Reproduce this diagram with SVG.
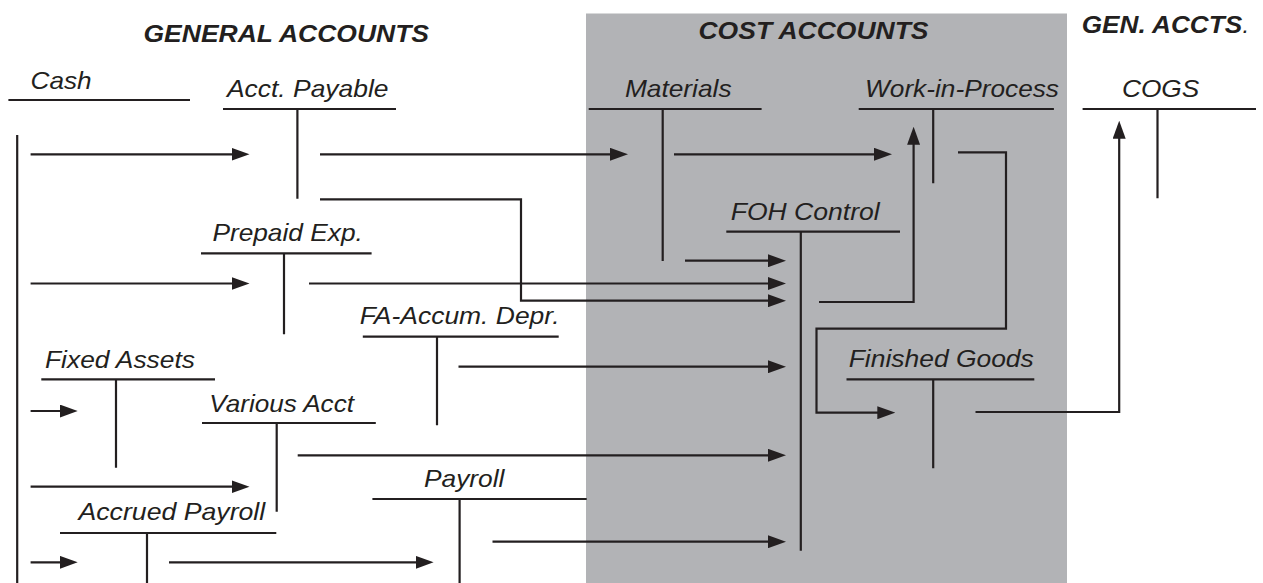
<svg xmlns="http://www.w3.org/2000/svg" width="1263" height="583" viewBox="0 0 1263 583">
<style>
.hd{font-family:"Liberation Sans",Arial,sans-serif;font-weight:bold;font-style:italic;font-size:24px;fill:#231f20}
.lb{font-family:"Liberation Sans",Arial,sans-serif;font-style:italic;font-size:24px;fill:#231f20}
.ln{stroke:#231f20;stroke-width:2.2;fill:none}
.cn{stroke:#231f20;stroke-width:2.2;fill:none;stroke-linejoin:miter;marker-end:url(#ah)}
.cp{stroke:#231f20;stroke-width:2.2;fill:none;stroke-linejoin:miter}
</style>
<defs>
<marker id="ah" markerUnits="userSpaceOnUse" markerWidth="18" markerHeight="13" refX="8" refY="6.5" orient="auto">
<path d="M0,0 L18,6.5 L0,13 z" fill="#231f20"/>
</marker>
</defs>
<rect id="cost-area" x="586" y="13.5" width="481" height="570" fill="#b2b3b6"/>
<g id="headers">
<text class="hd" x="143.5" y="41.7" textLength="285.5" lengthAdjust="spacingAndGlyphs">GENERAL ACCOUNTS</text>
<text class="hd" x="698.5" y="39.3" textLength="230" lengthAdjust="spacingAndGlyphs">COST ACCOUNTS</text>
<text class="hd" x="1081.7" y="33.3" textLength="160.5" lengthAdjust="spacingAndGlyphs">GEN. ACCTS</text>
<text class="lb" x="1242.5" y="33.3">.</text>
</g>
<g id="cash">
<text class="lb" x="30.6" y="89" textLength="61" lengthAdjust="spacingAndGlyphs">Cash</text>
<path class="ln" d="M8.4,100 H190 M17.2,135 V583"/>
</g>
<g id="acct-payable">
<text class="lb" x="227" y="97.3" textLength="161.5" lengthAdjust="spacingAndGlyphs">Acct. Payable</text>
<path class="ln" d="M223,109 H396 M297.4,109 V198.7"/>
</g>
<g id="prepaid-exp">
<text class="lb" x="212.4" y="240.7" textLength="150.4" lengthAdjust="spacingAndGlyphs">Prepaid Exp.</text>
<path class="ln" d="M201,253.3 H371.6 M284,253.3 V334.3"/>
</g>
<g id="fa-accum-depr">
<text class="lb" x="359.7" y="324.3" textLength="199.8" lengthAdjust="spacingAndGlyphs">FA-Accum. Depr.</text>
<path class="ln" d="M362.8,336.7 H558.7 M437,336.7 V425.3"/>
</g>
<g id="fixed-assets">
<text class="lb" x="45" y="367.7" textLength="150" lengthAdjust="spacingAndGlyphs">Fixed Assets</text>
<path class="ln" d="M41.3,379.3 H215 M116,379.3 V467.7"/>
</g>
<g id="various-acct">
<text class="lb" x="209.3" y="411.7" textLength="144.7" lengthAdjust="spacingAndGlyphs">Various Acct</text>
<path class="ln" d="M202,423 H375.8 M276.7,423 V511.7"/>
</g>
<g id="payroll">
<text class="lb" x="424" y="486.7" textLength="80.4" lengthAdjust="spacingAndGlyphs">Payroll</text>
<path class="ln" d="M372.4,499 H586.7 M459.6,499 V583"/>
</g>
<g id="accrued-payroll">
<text class="lb" x="78.5" y="520" textLength="186.7" lengthAdjust="spacingAndGlyphs">Accrued Payroll</text>
<path class="ln" d="M60,533 H276.3 M147,533 V583"/>
</g>
<g id="materials">
<text class="lb" x="624.9" y="97.3" textLength="106.7" lengthAdjust="spacingAndGlyphs">Materials</text>
<path class="ln" d="M588.7,109 H761.6 M662.7,109 V261"/>
</g>
<g id="work-in-process">
<text class="lb" x="865" y="97.3" textLength="194" lengthAdjust="spacingAndGlyphs">Work-in-Process</text>
<path class="ln" d="M858.7,109 H1053.9 M933.2,109 V183.3"/>
</g>
<g id="foh-control">
<text class="lb" x="730.7" y="220" textLength="149" lengthAdjust="spacingAndGlyphs">FOH Control</text>
<path class="ln" d="M726.3,231.7 H900 M800.8,231.7 V550.7"/>
</g>
<g id="finished-goods">
<text class="lb" x="848.7" y="367.3" textLength="185.1" lengthAdjust="spacingAndGlyphs">Finished Goods</text>
<path class="ln" d="M846.5,379.3 H1034.3 M933.2,379.3 V468.3"/>
</g>
<g id="cogs">
<text class="lb" x="1122" y="97.3" textLength="77.3" lengthAdjust="spacingAndGlyphs">COGS</text>
<path class="ln" d="M1082.6,109 H1256 M1157.5,109 V198.3"/>
</g>
<g id="connectors">
<path class="cn" d="M30.6,154.3 H239.5"/>
<path class="cn" d="M320,154.3 H618"/>
<path class="cn" d="M674,154.3 H882"/>
<path class="cn" d="M819,302 H913.6 V136.7"/>
<path class="cn" d="M958,152.3 H1006 V328.7 H816.5 V412.7 H885.3"/>
<path class="cn" d="M975.5,412 H1119.2 V130.7"/>
<path class="cn" d="M320,199.3 H521 V300.7 H776"/>
<path class="cn" d="M685,260.7 H776"/>
<path class="cn" d="M30.6,283.5 H239.5"/>
<path class="cn" d="M309,283.5 H776"/>
<path class="cn" d="M458.5,366.7 H776"/>
<path class="cn" d="M30.6,411 H67.7"/>
<path class="cn" d="M297.7,455.3 H776"/>
<path class="cn" d="M30.6,486.7 H239.5"/>
<path class="cn" d="M492.5,541.7 H776"/>
<path class="cn" d="M30.6,562.3 H67.7"/>
<path class="cn" d="M169,562.3 H423.6"/>
</g>
</svg>
